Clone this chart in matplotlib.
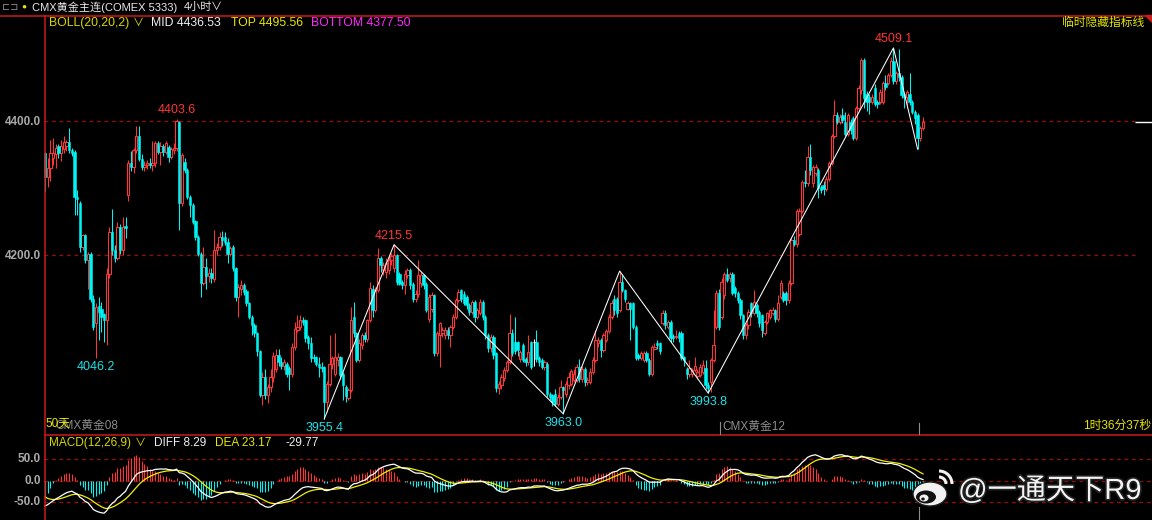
import numpy as np
import matplotlib
matplotlib.use('Agg')
import matplotlib.pyplot as plt
from matplotlib.patches import Ellipse, Arc, Polygon
import matplotlib.patheffects as pe

plt.rcParams['font.family'] = ['Liberation Sans', 'Noto Sans CJK SC', 'DejaVu Sans']

# 4-hour candles, CMX gold
opens = [
    4352, 4317, 4330, 4345, 4350, 4362, 4352, 4358, 4362, 4369,
    4356, 4354, 4287, 4277, 4212, 4230, 4193, 4202, 4135, 4098,
    4124, 4120, 4112, 4103, 4172, 4235, 4208, 4195, 4242, 4208,
    4243, 4290, 4338, 4331, 4357, 4377, 4344, 4331, 4334, 4338,
    4334, 4338, 4367, 4353, 4362, 4353, 4361, 4347, 4357, 4359,
    4398, 4277, 4339, 4327, 4287, 4274, 4250, 4227, 4202, 4158,
    4182, 4169, 4173, 4164, 4208, 4212, 4227, 4227, 4220, 4202,
    4212, 4180, 4138, 4150, 4155, 4147, 4128, 4108, 4095, 4083,
    4056, 3991, 4018, 3991, 4003, 4018, 4030, 4050, 4040, 4035,
    4038, 4031, 4023, 4063, 4088, 4093, 4103, 4103, 4078, 4068,
    4048, 4048, 4038, 4033, 4033, 3981, 4008, 4038, 4023, 4043,
    4048, 4023, 4003, 3986, 3998, 4108, 4083, 4043, 4065, 4080,
    4075, 4103, 4150, 4118, 4148, 4195, 4178, 4175, 4178, 4192,
    4180, 4200, 4172, 4160, 4155, 4170, 4177, 4157, 4135, 4142,
    4158, 4170, 4157, 4105, 4120, 4140, 4053, 4080, 4083, 4080,
    4088, 4080, 4093, 4108, 4133, 4148, 4142, 4138, 4125, 4115,
    4130, 4108, 4113, 4130, 4108, 4080, 4061, 4078, 4053, 4001,
    4006, 4016, 4028, 4040, 4083, 4070, 4070, 4045, 4065, 4045,
    4040, 4070, 4070, 4070, 4046, 4043, 4033, 4038, 3993, 3991,
    3993, 3978, 3988, 4003, 3993, 4006, 4008, 4013, 4013, 4033,
    4015, 4030, 4011, 4011, 4026, 4043, 4068, 4073, 4058, 4073,
    4086, 4108, 4135, 4135, 4118, 4160, 4148, 4120, 4128, 4128,
    4093, 4050, 4046, 4043, 4053, 4043, 4023, 4060, 4068, 4068,
    4098, 4113, 4093, 4100, 4079, 4078, 4083, 4083, 4048, 4030,
    4023, 4023, 4028, 4020, 4021, 4026, 4031, 4006, 4011, 4043,
    4093, 4143, 4108, 4140, 4172, 4165, 4172, 4150, 4143, 4133,
    4110, 4080, 4095, 4128, 4113, 4125, 4115, 4110, 4083, 4100,
    4108, 4113, 4118, 4105, 4138, 4143, 4143, 4133, 4158, 4222,
    4217, 4232, 4265, 4309, 4307, 4347, 4307, 4322, 4327, 4302,
    4305, 4299, 4314, 4337, 4377, 4409, 4399, 4409, 4399, 4381,
    4399, 4404, 4375, 4419, 4446, 4491, 4441, 4436, 4429, 4449,
    4429, 4429, 4429, 4456, 4456, 4469, 4489, 4459, 4471, 4466,
    4441, 4436, 4441, 4429, 4414, 4409, 4374, 4389,
]
highs = [
    4354, 4345, 4371, 4375, 4366, 4366, 4372, 4377, 4372, 4389,
    4360, 4356, 4297, 4280, 4232, 4232, 4204, 4205, 4140, 4128,
    4137, 4130, 4113, 4180, 4242, 4268, 4215, 4250, 4246, 4257,
    4257, 4342, 4355, 4360, 4392, 4393, 4350, 4340, 4342, 4345,
    4370, 4370, 4370, 4369, 4366, 4370, 4364, 4361, 4367, 4403.6,
    4400, 4352, 4345, 4330, 4290, 4277, 4252, 4230, 4205, 4212,
    4195, 4180, 4180, 4238, 4218, 4234, 4236, 4235, 4225, 4214,
    4215, 4182, 4156, 4162, 4158, 4150, 4130, 4110, 4098, 4085,
    4058, 4025, 4030, 4008, 4030, 4055, 4060, 4060, 4048, 4045,
    4040, 4035, 4068, 4100, 4110, 4110, 4108, 4105, 4080, 4078,
    4052, 4050, 4048, 4040, 4035, 4012, 4080, 4050, 4083, 4053,
    4050, 4025, 4006, 4002, 4122, 4130, 4085, 4075, 4083, 4085,
    4105, 4160, 4155, 4152, 4210, 4198, 4190, 4195, 4198, 4203,
    4215.5, 4202, 4175, 4163, 4177, 4180, 4180, 4160, 4148, 4192,
    4175, 4172, 4160, 4142, 4145, 4142, 4086, 4100, 4092, 4092,
    4093, 4096, 4112, 4136, 4150, 4150, 4146, 4140, 4128, 4133,
    4133, 4121, 4135, 4133, 4110, 4083, 4082, 4080, 4055, 4012,
    4022, 4033, 4043, 4112, 4090, 4108, 4072, 4058, 4068, 4048,
    4080, 4072, 4075, 4088, 4050, 4046, 4043, 4040, 3996, 3993,
    4000, 3993, 4013, 4005, 4012, 4025, 4030, 4030, 4038, 4045,
    4035, 4033, 4018, 4032, 4048, 4088, 4078, 4076, 4083, 4090,
    4112, 4133, 4140, 4138, 4176, 4172, 4150, 4132, 4130, 4130,
    4095, 4053, 4056, 4056, 4056, 4046, 4066, 4068, 4073, 4070,
    4118, 4118, 4103, 4103, 4082, 4088, 4086, 4086, 4050, 4033,
    4043, 4032, 4048, 4030, 4038, 4043, 4043, 4010, 4046, 4118,
    4148, 4150, 4165, 4175, 4180, 4175, 4175, 4153, 4146, 4136,
    4112, 4098, 4120, 4130, 4148, 4128, 4118, 4112, 4103, 4115,
    4120, 4122, 4120, 4140, 4162, 4147, 4147, 4162, 4226, 4228,
    4268, 4270, 4312, 4327, 4362, 4365, 4335, 4336, 4330, 4305,
    4310, 4318, 4340, 4380, 4431, 4413, 4410, 4420, 4413, 4412,
    4403, 4408, 4423, 4453, 4494, 4494, 4445, 4440, 4440, 4455,
    4432, 4448, 4460, 4468, 4472, 4496, 4509.1, 4475, 4508, 4469,
    4444, 4447, 4471, 4432, 4417, 4412, 4392, 4406,
]
lows = [
    4295, 4302, 4310, 4335, 4330, 4345, 4340, 4352, 4355, 4352,
    4348, 4260, 4260, 4205, 4208, 4188, 4150, 4130, 4088, 4046.2,
    4073, 4085, 4070, 4066, 4165, 4200, 4190, 4192, 4202, 4200,
    4225, 4280, 4325, 4322, 4352, 4340, 4327, 4325, 4328, 4330,
    4325, 4332, 4350, 4335, 4348, 4350, 4339, 4344, 4350, 4355,
    4237, 4273, 4322, 4284, 4257, 4246, 4222, 4199, 4138, 4155,
    4150, 4160, 4158, 4160, 4200, 4208, 4214, 4215, 4188, 4198,
    4176, 4132, 4107, 4140, 4140, 4124, 4104, 4080, 4078, 4050,
    3988, 3976, 3985, 3979, 3995, 4010, 4025, 4035, 4030, 4028,
    4018, 3998, 4018, 4058, 4085, 4088, 4095, 4070, 4060, 4040,
    4040, 4035, 4018, 4025, 3955.4, 3965, 4005, 4030, 4020, 4035,
    4015, 3983, 3981, 3983, 3995, 4078, 4040, 4040, 4060, 4070,
    4070, 4100, 4108, 4115, 4145, 4175, 4170, 4165, 4172, 4185,
    4175, 4155, 4155, 4150, 4142, 4165, 4150, 4130, 4130, 4138,
    4152, 4150, 4115, 4100, 4115, 4050, 4050, 4033, 4078, 4075,
    4075, 4063, 4090, 4105, 4130, 4130, 4125, 4120, 4110, 4112,
    4100, 4105, 4110, 4103, 4075, 4055, 4055, 4045, 3995, 3993,
    4000, 4012, 4025, 4038, 4050, 4052, 4050, 4040, 4040, 4035,
    4036, 4030, 4035, 4040, 4035, 4030, 4028, 3988, 3983, 3975,
    3975, 3975, 3985, 3963, 3988, 4000, 4005, 4010, 4010, 4010,
    4010, 4005, 4006, 4008, 4023, 4040, 4063, 4048, 4055, 4070,
    4083, 4105, 4110, 4108, 4115, 4145, 4130, 4118, 4073, 4090,
    4043, 4043, 4043, 4040, 4040, 4020, 4020, 4058, 4060, 4052,
    4095, 4090, 4090, 4070, 4070, 4074, 4070, 4043, 4035, 4015,
    4018, 4018, 4025, 4015, 4018, 4022, 4000, 3993.8, 3995, 4040,
    4090, 4088, 4105, 4135, 4160, 4160, 4140, 4138, 4128, 4105,
    4075, 4075, 4090, 4108, 4110, 4108, 4093, 4078, 4080, 4097,
    4105, 4110, 4100, 4102, 4135, 4130, 4125, 4128, 4155, 4213,
    4212, 4228, 4262, 4302, 4303, 4320, 4302, 4318, 4285, 4292,
    4290, 4295, 4310, 4334, 4374, 4395, 4395, 4397, 4377, 4378,
    4380, 4372, 4372, 4415, 4440, 4420, 4415, 4410, 4425, 4422,
    4420, 4425, 4425, 4446, 4453, 4465, 4455, 4455, 4460, 4435,
    4420, 4419, 4424, 4410, 4396, 4358, 4370, 4386,
]
closes = [
    4317, 4330, 4352, 4352, 4360, 4352, 4362, 4368, 4369, 4356,
    4352, 4287, 4284, 4212, 4230, 4193, 4202, 4135, 4093, 4123,
    4115, 4107, 4103, 4172, 4235, 4208, 4195, 4242, 4208, 4242,
    4240, 4338, 4331, 4357, 4377, 4344, 4331, 4334, 4338, 4335,
    4338, 4367, 4353, 4362, 4353, 4367, 4347, 4358, 4359, 4400,
    4277, 4349, 4327, 4287, 4274, 4250, 4227, 4202, 4158, 4182,
    4169, 4173, 4165, 4208, 4212, 4227, 4222, 4220, 4202, 4211,
    4180, 4138, 4152, 4155, 4145, 4128, 4108, 4095, 4083, 4056,
    3991, 4018, 3991, 4003, 4018, 4050, 4050, 4040, 4035, 4040,
    4023, 4023, 4063, 4090, 4093, 4103, 4100, 4076, 4068, 4046,
    4046, 4038, 4033, 4031, 3981, 4008, 4038, 4046, 4048, 4048,
    4021, 4006, 3989, 3998, 4103, 4083, 4043, 4068, 4080, 4075,
    4103, 4150, 4118, 4148, 4195, 4185, 4185, 4188, 4192, 4198,
    4200, 4160, 4157, 4155, 4172, 4177, 4155, 4135, 4142, 4170,
    4170, 4155, 4118, 4138, 4140, 4053, 4083, 4098, 4088, 4088,
    4080, 4093, 4108, 4133, 4145, 4135, 4128, 4125, 4115, 4130,
    4108, 4118, 4130, 4108, 4080, 4061, 4078, 4051, 4001, 4008,
    4018, 4028, 4040, 4083, 4053, 4056, 4058, 4055, 4043, 4040,
    4055, 4033, 4070, 4045, 4040, 4033, 4040, 3993, 3988, 3981,
    3978, 3988, 4003, 3998, 4008, 4018, 4027, 4023, 4033, 4015,
    4030, 4011, 4013, 4026, 4043, 4073, 4073, 4058, 4080, 4086,
    4108, 4128, 4118, 4113, 4160, 4148, 4135, 4128, 4120, 4093,
    4046, 4046, 4053, 4053, 4043, 4023, 4063, 4063, 4066, 4056,
    4113, 4095, 4100, 4076, 4076, 4079, 4076, 4046, 4043, 4023,
    4031, 4028, 4035, 4026, 4033, 4036, 4006, 4001, 4043, 4066,
    4143, 4093, 4160, 4172, 4163, 4172, 4143, 4143, 4133, 4110,
    4080, 4095, 4115, 4113, 4130, 4113, 4098, 4088, 4100, 4113,
    4118, 4118, 4105, 4128, 4158, 4133, 4133, 4158, 4222, 4217,
    4265, 4265, 4309, 4307, 4347, 4327, 4332, 4332, 4300, 4297,
    4299, 4314, 4337, 4377, 4409, 4399, 4406, 4401, 4381, 4409,
    4386, 4375, 4419, 4449, 4491, 4434, 4429, 4429, 4436, 4426,
    4426, 4444, 4456, 4451, 4469, 4489, 4459, 4471, 4466, 4439,
    4436, 4444, 4429, 4414, 4404, 4374, 4389, 4399,
]

# zigzag turning points and the extremes that carry a price label
zz_prices = [3955.4, 4215.5, 3963.0, 4176, 3993.8, 4509.1, 4358]
zz_kinds = ['L', 'H', 'L', 'H', 'L', 'H', 'L']
label_highs = [4403.6, 4215.5, 4509.1]
label_lows = [4046.2, 3955.4, 3963.0, 3993.8]

price_ticks = [4400, 4200]
macd_ticks = [50, 0, -50]

W, H = 1152, 520
RED = '#ff3535'
CYAN = '#00f4f4'
FRAME = '#cc1a1a'
GRID = '#9a0c0c'
YEL = '#e6e600'
GREY = '#a9a9a9'

o = np.array(opens, float)
c = np.array(closes, float)
hi = np.maximum(np.array(highs, float), np.maximum(o, c))
lo = np.minimum(np.array(lows, float), np.minimum(o, c))
n = len(c)
x = np.arange(n)

# pixel layout
X0, X1 = 45, 923          # first / last candle centre
step = (X1 - X0) / (n - 1)
def px2i(px):
    return (px - X0) / step

fig = plt.figure(figsize=(W / 100, H / 100), dpi=100, facecolor='black')

def px_axes(x0, y0, x1, y1):
    a = fig.add_axes([x0 / W, 1 - y1 / H, (x1 - x0) / W, (y1 - y0) / H])
    a.set_facecolor('black')
    a.axis('off')
    return a

# ---- price panel
ax = px_axes(44, 15, W, 435)
ax.set_xlim(px2i(44), px2i(W))
ppx = 200 / 134.0          # price per pixel
ax.set_ylim(4400 - (435 - 121) * ppx, 4400 + (121 - 15) * ppx)

for t in price_ticks:
    ax.hlines(t, px2i(44), px2i(1135), colors=GRID, lw=0.9, linestyles=(0, (3, 3)))
ax.hlines(c[-1], px2i(1135), px2i(W), colors='white', lw=1.0)

up = c > o
dn = c < o
eq = c == o
wick_col = np.where(up, RED, np.where(dn, CYAN, 'white'))
ax.vlines(x, lo, hi, colors=list(wick_col), lw=0.75, zorder=2)
bw = 0.86
min_h = 1.2 * ppx
ax.bar(x[up], np.maximum(c[up] - o[up], min_h), bottom=o[up], width=bw,
       facecolor='black', edgecolor=RED, linewidth=0.75, zorder=3)
ax.bar(x[dn], np.maximum(o[dn] - c[dn], min_h), bottom=c[dn], width=bw,
       facecolor=CYAN, edgecolor=CYAN, linewidth=0.4, zorder=3)
ax.hlines(c[eq], x[eq] - bw / 2, x[eq] + bw / 2, colors='white', lw=0.9, zorder=3)

# zigzag line through the turning points
zx, zy = [], []
for p, k in zip(zz_prices, zz_kinds):
    idx = list(hi).index(p) if k == 'H' else list(lo).index(p)
    zx.append(idx)
    zy.append(p)
ax.plot(zx, zy, color='white', lw=0.75, zorder=4)

for p in label_highs:
    i = list(hi).index(p)
    ax.annotate('%.1f' % p, (i, p), xytext=(0, 6.5), textcoords='offset points',
                ha='center', va='center', color=RED, fontsize=9, zorder=5)
for p in label_lows:
    i = list(lo).index(p)
    ax.annotate('%.1f' % p, (i, p), xytext=(0, -6.5), textcoords='offset points',
                ha='center', va='center', color='#1ee0e8', fontsize=9, zorder=5)

# ---- MACD panel (12, 26, 9), EMAs seeded with the trend before the window
def ema(vals, span, seed):
    a = 2.0 / (span + 1)
    out, e = [], seed
    for v in vals:
        e = a * v + (1 - a) * e
        out.append(e)
    return np.array(out)

diff = ema(c, 12, c[0] + 38) - ema(c, 26, c[0] + 98)
dea = ema(diff, 9, -32)
hist = 2 * (diff - dea)

mx = px_axes(44, 435, W, H)
mx.set_xlim(px2i(44), px2i(W))
mpx = 50 / 21.5
mx.set_ylim(-(H - 480.7) * mpx, (480.7 - 435) * mpx)
for t in macd_ticks:
    mx.hlines(t, px2i(44), px2i(W), colors=GRID, lw=0.9, linestyles=(0, (3, 3)))
mx.vlines(x, 0, hist, colors=np.where(hist >= 0, RED, CYAN), lw=0.8)
mx.plot(x, dea, color='#f0f000', lw=0.9)
mx.plot(x, diff, color='white', lw=0.9)

# ---- overlay for frame, captions and texts (pixel coordinates)
ov = fig.add_axes([0, 0, 1, 1], zorder=10)
ov.set_xlim(0, W)
ov.set_ylim(H, 0)
ov.axis('off')
ov.patch.set_alpha(0)

ov.plot([0, W], [15.5, 15.5], color=FRAME, lw=1.1)
ov.plot([44.5, 44.5], [15.5, H], color=FRAME, lw=1.1)
ov.plot([44.5, W], [434.5, 434.5], color=FRAME, lw=1.1)
ov.add_patch(Polygon([[1145, 15], [W, 15], [W, 22]], closed=True, color=FRAME))

def t(xp, yp, s, col, size=8.5, **kw):
    ov.text(xp, yp, s, color=col, fontsize=size, va='center', **kw)

# title row
t(2, 7, '⊏⊐', '#909090', 7)
t(21, 7, '●', '#e8e800', 6)
t(32, 7, 'CMX黄金主连(COMEX 5333)', '#e8e8e8', 8)
t(184, 7, '4小时', '#e8e8e8', 8)
t(211, 7, '∨', '#e8e8e8', 8)

t(49, 23, 'BOLL(20,20,2)', '#d8d800', 8.8)
t(133, 23, '∨', '#d8d800', 8)
t(151, 23, 'MID 4436.53', '#f0f0f0', 8.8)
t(231, 23, 'TOP 4495.56', '#e8e800', 8.8)
t(311, 23, 'BOTTOM 4377.50', '#ff28ff', 8.8)
t(1144, 23, '临时隐藏指标线', YEL, 8.5, ha='right')

for p in price_ticks:
    yp = 121 + (4400 - p) / ppx
    t(41, yp + 1, '%.1f' % p, GREY, 8.5, ha='right', fontweight='bold')
for m in macd_ticks:
    yp = 480.7 - m / mpx
    t(41, yp, '%.1f' % m, GREY, 8.5, ha='right', fontweight='bold')

# contract markers along the bottom of the price panel
t(55, 426, 'CMX黄金08', '#8c8c8c', 8.5)
t(45, 424, '50天', YEL, 8.5)
ov.plot([719.5, 719.5], [422, 434], color='#8c8c8c', lw=0.8)
t(722, 427, 'CMX黄金12', '#8c8c8c', 8.5)
ov.plot([918.5, 918.5], [423, 434], color='#8c8c8c', lw=0.8)
ov.plot([918.5, 918.5], [507, H], color='#8c8c8c', lw=0.8)
t(1083, 426, '1时36分37秒', YEL, 8.5)

t(49, 443, 'MACD(12,26,9)', '#d8d800', 8.5)
t(135, 443, '∨', '#d8d800', 8)
t(154, 443, 'DIFF 8.29', '#f0f0f0', 8.5)
t(215, 443, 'DEA 23.17', '#e8e800', 8.5)
t(286, 443, '-29.77', '#f0f0f0', 8.5)

# watermark
outline = [pe.withStroke(linewidth=2.5, foreground='#202020')]
ov.add_patch(Ellipse((930, 494), 34, 24, facecolor='#f2f2f2', edgecolor='#202020', lw=1.0))
ov.add_patch(Ellipse((926, 497), 20, 13, facecolor='#111111'))
ov.add_patch(Ellipse((924, 498), 9, 7, facecolor='#f2f2f2'))
ov.add_patch(Ellipse((923, 499), 3.5, 3, facecolor='#111111'))
ov.add_patch(Arc((939, 484), 14, 14, theta1=270, theta2=360, color='#f2f2f2', lw=2.2))
ov.add_patch(Arc((939, 484), 26, 26, theta1=270, theta2=360, color='#f2f2f2', lw=2.2))
ov.text(958, 491, '@一通天下R9', color='#f4f4f4', fontsize=21, va='center',
        path_effects=outline)

fig.savefig('out.png', dpi=100, facecolor='black')
